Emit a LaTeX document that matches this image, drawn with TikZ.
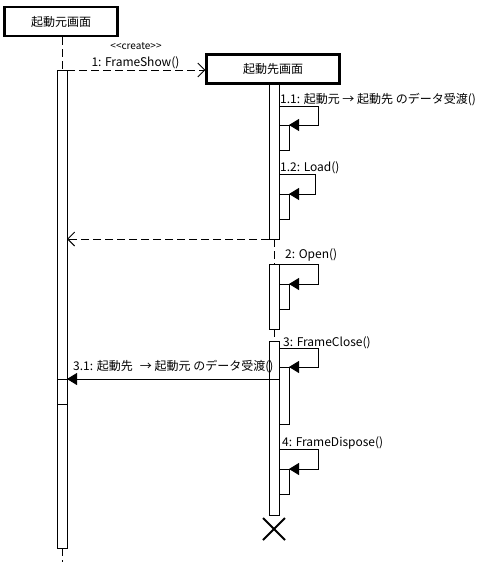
\documentclass[tikz,border=0pt]{standalone}
\usepackage{fontspec}
\setmainfont{Noto Sans CJK JP}
\usetikzlibrary{arrows.meta}
\begin{document}
\begin{tikzpicture}[x=1pt,y=-1pt,
  every node/.style={inner sep=0pt, font=\fontsize{12}{13}\selectfont},
  obj/.style={draw, line width=2.2pt, minimum height=29pt},
  bar/.style={draw, fill=white, line width=0.9pt},
  dsh/.style={dash pattern=on 8pt off 4pt, line width=0.9pt},
  lnk/.style={line width=0.9pt},
  msg/.style={lnk, -{Triangle[length=10pt,width=12pt]}},
  ret/.style={dsh, -{Straight Barb[length=7pt,width=14pt]}},
  lbl/.style={anchor=base west},
  small/.style={font=\fontsize{10}{11}\selectfont}]
\useasboundingbox (0,0) rectangle (486,562);
% objects
\node[obj, minimum width=113pt] (src) at (61,21.5) {起動元画面};
\node[obj, minimum width=133pt] (dst) at (273,69) {起動先画面};
% lifelines (dashed parts)
\coordinate (sl0) at (62,37);
\coordinate (sl1) at (62,70);
\coordinate (sl2) at (62,548);
\coordinate (sl3) at (62,562);
\draw[dsh] (sl0) -- (sl1);
\draw[dsh] (sl2) -- (sl3);
\coordinate (dl1) at (274,239);
\coordinate (dl2) at (274,264);
\coordinate (dl3) at (274,329);
\coordinate (dl4) at (274,341);
\draw[dsh] (dl1) -- (dl2);
\draw[dsh] (dl3) -- (dl4);
% activation bars
\draw[bar] (57,70) rectangle (67,548);
\draw[lnk] (57,379) -- (67,379);
\draw[lnk] (57,404) -- (67,404);
\draw[bar] (269,84) rectangle (279,239);
\draw[bar] (269,264) rectangle (279,329);
\draw[bar] (269,341) rectangle (279,515);
\draw[bar] (279,125) rectangle (289,150);
\draw[bar] (279,194) rectangle (289,219);
\draw[bar] (279,284) rectangle (289,309);
\draw[bar] (279,367) rectangle (289,424);
\draw[bar] (279,469) rectangle (289,494);
% message 1 (create)
\coordinate (m1s) at (67,70);
\draw[ret] (m1s) -- (dst.west |- m1s);
\node[small] (cr) at (136,46) {<\kern0pt<create>\kern0pt>};
\node (m1l) at (135.5,63) {1: FrameShow()};
% self call 1.1
\coordinate (a1) at (279,106);
\coordinate (a2) at (318,106);
\coordinate (a3) at (318,125);
\coordinate (a4) at (289,125);
\draw[msg] (a1) -- (a2) -- (a3) -- (a4);
\node[lbl] (l11) at (280,103.5) {1.1: 起動元 → 起動先 のデータ受渡()};
% self call 1.2
\coordinate (b1) at (279,174);
\coordinate (b2) at (315,174);
\coordinate (b3) at (315,194);
\coordinate (b4) at (289,194);
\draw[msg] (b1) -- (b2) -- (b3) -- (b4);
\node[lbl] (l12) at (280,171.5) {1.2: Load()};
% return
\coordinate (r1) at (269,239);
\coordinate (r2) at (67,239);
\draw[ret] (r1) -- (r2);
% self call 2
\coordinate (c1) at (279,264);
\coordinate (c2) at (318,264);
\coordinate (c3) at (318,284);
\coordinate (c4) at (289,284);
\draw[msg] (c1) -- (c2) -- (c3) -- (c4);
\node[lbl] (l2) at (285,258.5) {2: Open()};
% self call 3
\coordinate (d1) at (279,348);
\coordinate (d2) at (318,348);
\coordinate (d3) at (318,367);
\coordinate (d4) at (289,367);
\draw[msg] (d1) -- (d2) -- (d3) -- (d4);
\node[lbl] (l3) at (283,346.5) {3: FrameClose()};
% message 3.1
\coordinate (e1) at (279,379);
\coordinate (e2) at (67,379);
\draw[msg] (e1) -- (e2);
\node[lbl] (l31) at (73,370.5) {3.1: 起動先\hspace{0.6em}→ 起動元 のデータ受渡()};
% self call 4
\coordinate (f1) at (279,449);
\coordinate (f2) at (318,449);
\coordinate (f3) at (318,469);
\coordinate (f4) at (289,469);
\draw[msg] (f1) -- (f2) -- (f3) -- (f4);
\node[lbl] (l4) at (282,446.5) {4: FrameDispose()};
% destruction
\coordinate (x1) at (263,518);
\coordinate (x2) at (285,540);
\coordinate (x3) at (285,518);
\coordinate (x4) at (263,540);
\draw[line width=2pt] (x1) -- (x2) (x3) -- (x4);
\end{tikzpicture}
\end{document}
